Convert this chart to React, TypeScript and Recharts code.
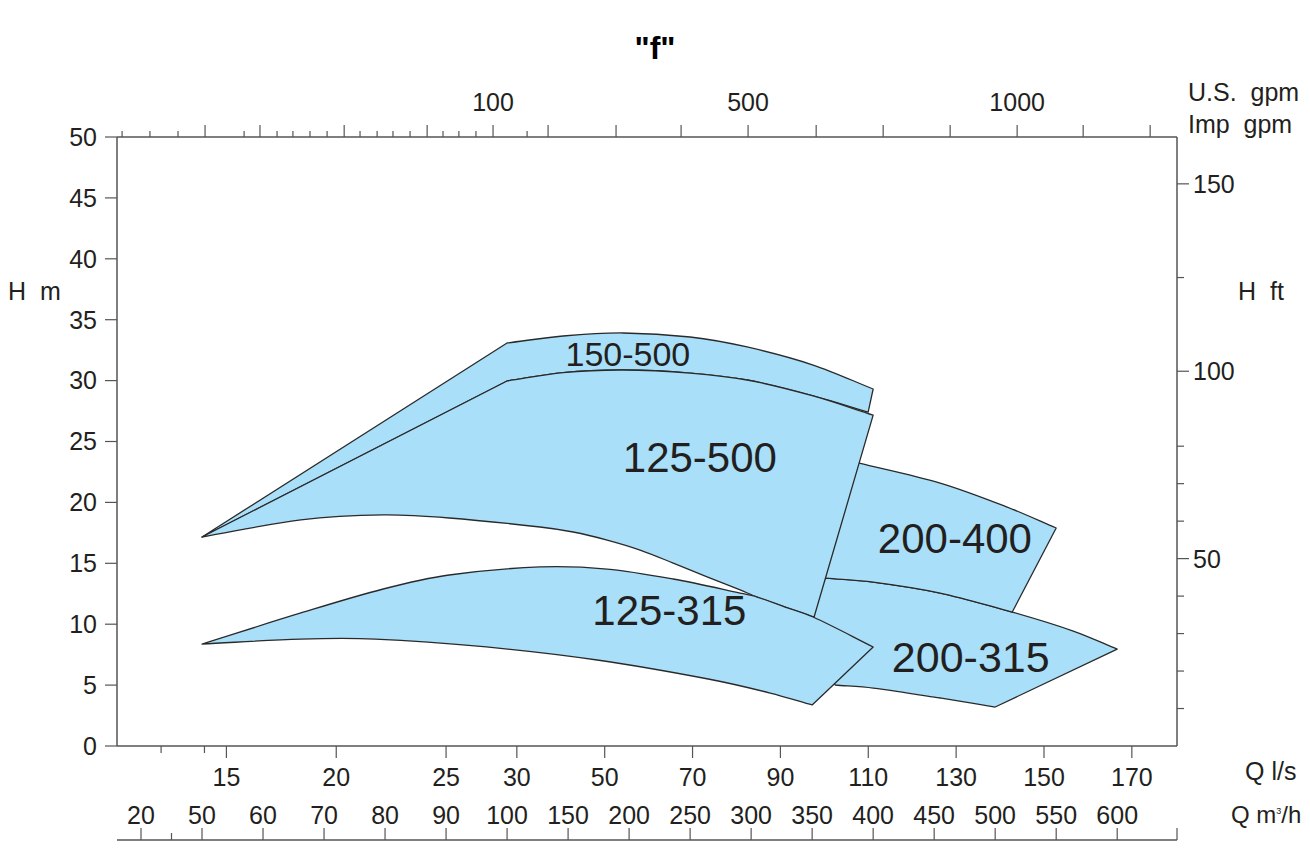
import { ComposedChart, Scatter, XAxis, YAxis } from "recharts"

// x axis of the chart is the Q m³/h scale, which is stretched piece by piece between its ticks
const m3hTicks = [20, 50, 60, 70, 80, 90, 100, 150, 200, 250, 300, 350, 400, 450, 500, 550, 600]
const m3hMinor = [35]
const lsTicks = [15, 20, 25, 30, 50, 70, 90, 110, 130, 150, 170]
const lsMinor = [8.3, 14]
// top gpm ticks, given as the m³/h value they sit over
const gpmTicks = [50.5, 59.5, 73.3, 86.9, 97.7, 133.6, 189.3, 242.6, 297.5, 353.3, 408.2, 463.1, 518, 572.1, 627]
const gpmLabels = ["", "", "", "", "100", "", "", "", "500", "", "", "", "1000", "", ""]
const gpmMinor = [10.7, 24.4, 38.2, 56.9, 62.3, 64.9, 67.7, 70.5, 75.9, 78.7, 81.3, 84.1, 89.5, 92.1, 94.9, 116.4]
const hTicks = [0, 5, 10, 15, 20, 25, 30, 35, 40, 45, 50]
const ftTicks = [50, 100, 150]
const ftMinor = [10, 20, 30, 40, 60, 70, 80, 125]
const qRange = [8.2, 649]

// outlines: [Q m³/h, H m, corner]
const outline150_500: [number, number, number][] = [
  [50, 17.16, 1], [100, 33.09, 1], [145.9, 33.66, 0], [195.1, 33.91, 0], [250, 33.58, 0],
  [296.7, 32.76, 0], [350.8, 31.28, 0], [400, 29.31, 1], [395.9, 27.42, 1], [350.8, 28.74, 0],
  [296.7, 30.05, 0], [250, 30.62, 0], [195.1, 30.87, 0], [145.9, 30.66, 0], [100, 29.97, 1],
]
const outline125_500: [number, number, number][] = [
  [50, 17.16, 1], [100, 29.97, 1], [145.9, 30.66, 0], [195.1, 30.87, 0], [250, 30.62, 0],
  [296.7, 30.05, 0], [350.8, 28.74, 0], [400, 27.16, 1], [351.6, 10.59, 1], [327.9, 11.41, 0],
  [304.9, 12.23, 0], [291, 12.81, 0], [263.9, 13.88, 0], [236.1, 15.02, 0], [209, 16.09, 0],
  [182, 16.91, 0], [154.1, 17.57, 0], [127, 17.98, 0], [90.5, 18.72, 0], [79.7, 18.97, 0],
  [66.2, 18.56, 0],
]
const outline200_400: [number, number, number][] = [
  [377, 23.48, 1], [388.5, 23.23, 0], [454.9, 21.59, 0], [509.8, 19.62, 0], [550, 17.9, 1],
  [514, 11.0, 1], [454.9, 12.56, 0], [400, 13.46, 0], [361.5, 13.79, 0], [350, 13.9, 1],
]
const outline200_315: [number, number, number][] = [
  [361.5, 13.79, 1], [400, 13.46, 0], [454.9, 12.56, 0], [514, 11.0, 0], [564, 9.44, 0],
  [600, 7.96, 1], [500, 3.2, 1], [454.9, 3.94, 0], [400, 4.76, 0], [368.9, 5.01, 1],
  [350, 8.7, 1], [340.2, 12.0, 1],
]
const outline125_315: [number, number, number][] = [
  [50, 8.37, 1], [66.2, 10.92, 0], [79.7, 12.89, 0], [90.5, 14.04, 0], [127, 14.7, 0],
  [182, 14.53, 0], [236.1, 13.71, 0], [291, 12.56, 0], [304.9, 12.23, 0], [327.9, 11.41, 0],
  [350.8, 10.59, 0], [400, 8.13, 1], [350, 3.37, 1], [315.6, 4.35, 0], [264.8, 5.5, 0],
  [173.8, 7.06, 0], [96.6, 8.13, 0], [78.4, 8.78, 0], [66.2, 8.78, 0],
]

const pumpNames = ["150-500", "125-500", "200-400", "125-315", "200-315"]
const labelQ = [199, 258, 467, 233, 480]
const labelH = [32.2, 23.7, 17.0, 11.1, 7.3]
const labelSize: Record<string, number> = { "150-500": 34, "125-500": 42, "200-400": 42, "125-315": 42, "200-315": 43 }

const fillColor = "#a9dff8"
const edgeColor = "#2a2a2a"
const axisColor = "#555"
const textColor = "#231f20"
const font = "'Liberation Sans', Arial, Helvetica, sans-serif"
const tickFont = 25

function qPos(q: number) {
  const t = m3hTicks
  let i = 0
  while (i < t.length - 2 && q > t[i + 1]) i++
  return i + (q - t[i]) / (t[i + 1] - t[i])
}

const domain = [qPos(qRange[0]), qPos(qRange[1])]
const m3hPos = m3hTicks.map(qPos)
const lsPos = lsTicks.map((v) => qPos(v * 3.6))
const gpmPos = gpmTicks.map(qPos)
const find = (list: number[], v: number) => list.findIndex((t) => Math.abs(t - v) < 1e-6)

type Pt = { x: number; y: number }

// spline through the points, tangents scaled by chord length
function spline(seg: Pt[]) {
  if (seg.length === 2) return `L${seg[1].x},${seg[1].y}`
  const t = [0]
  for (let i = 1; i < seg.length; i++) t.push(t[i - 1] + Math.hypot(seg[i].x - seg[i - 1].x, seg[i].y - seg[i - 1].y))
  const m = seg.map((_, i) => {
    const a = seg[Math.max(i - 1, 0)]
    const b = seg[Math.min(i + 1, seg.length - 1)]
    const dt = t[Math.min(i + 1, seg.length - 1)] - t[Math.max(i - 1, 0)] || 1
    return { x: (b.x - a.x) / dt, y: (b.y - a.y) / dt }
  })
  let d = ""
  for (let i = 0; i < seg.length - 1; i++) {
    const dt = t[i + 1] - t[i]
    const p1 = seg[i]
    const p2 = seg[i + 1]
    d += `C${p1.x + (m[i].x * dt) / 3},${p1.y + (m[i].y * dt) / 3},${p2.x - (m[i + 1].x * dt) / 3},${p2.y - (m[i + 1].y * dt) / 3},${p2.x},${p2.y}`
  }
  return d
}

function smoothPath(pts: Pt[], corners: boolean[]) {
  const ring = [...pts, pts[0]]
  const flags = [...corners, true]
  let d = `M${ring[0].x},${ring[0].y}`
  let start = 0
  for (let i = 1; i < ring.length; i++) {
    if (flags[i]) {
      d += spline(ring.slice(start, i + 1))
      start = i
    }
  }
  return d + "Z"
}

const toData = (o: [number, number, number][]) => o.map(([q, h]) => ({ x: qPos(q), y: h }))

const outlineLine = (o: [number, number, number][]) => (props: any) => (
  <path
    d={smoothPath(props.points, o.map((p) => p[2] === 1))}
    fill={fillColor}
    stroke={edgeColor}
    strokeWidth={1.3}
    strokeLinejoin="round"
  />
)

const NoDot = () => <g />

const labelData = pumpNames.map((name, i) => ({ x: qPos(labelQ[i]), y: labelH[i], name }))

function PumpLabel(props: any) {
  const name = props.payload.name
  return (
    <text x={props.cx} y={props.cy} textAnchor="middle" dominantBaseline="central" fontSize={labelSize[name]} fill={textColor} fontFamily={font}>
      {name}
    </text>
  )
}

function TopTick({ x, y, payload }: any) {
  const i = find(gpmPos, payload.value)
  const major = i >= 0
  return (
    <g>
      <line x1={x} x2={x} y1={y} y2={y - (major ? 12 : 6)} stroke={axisColor} strokeWidth={1.2} />
      {major && gpmLabels[i] && (
        <text x={x} y={y - 35} textAnchor="middle" dominantBaseline="central" fontSize={tickFont} fill={textColor} fontFamily={font}>
          {gpmLabels[i]}
        </text>
      )}
    </g>
  )
}

function LsTick({ x, y, payload }: any) {
  const i = find(lsPos, payload.value)
  const major = i >= 0
  return (
    <g>
      <line x1={x} x2={x} y1={y} y2={y + (major ? 12 : 7)} stroke={axisColor} strokeWidth={1.2} />
      {major && (
        <text x={x} y={y + 31} textAnchor="middle" dominantBaseline="central" fontSize={tickFont} fill={textColor} fontFamily={font}>
          {lsTicks[i]}
        </text>
      )}
    </g>
  )
}

function M3hTick({ x, y, payload }: any) {
  const i = find(m3hPos, payload.value)
  const major = i >= 0
  const base = y + 44
  return (
    <g>
      <line x1={x} x2={x} y1={base} y2={base - (major ? 12 : 7)} stroke={axisColor} strokeWidth={1.2} />
      {major && (
        <text x={x} y={y + 19} textAnchor="middle" dominantBaseline="central" fontSize={tickFont} fill={textColor} fontFamily={font}>
          {m3hTicks[i]}
        </text>
      )}
    </g>
  )
}

function M3hLine(props: any) {
  const vb = props.viewBox
  if (!vb) return null
  const base = vb.y + 44
  return (
    <g>
      <line x1={vb.x} x2={vb.x + vb.width} y1={base} y2={base} stroke={axisColor} strokeWidth={1.5} />
      <line x1={vb.x + vb.width} x2={vb.x + vb.width} y1={base} y2={base - 12} stroke={axisColor} strokeWidth={1.2} />
    </g>
  )
}

function FtTick({ x, y, payload }: any) {
  const major = ftTicks.includes(payload.value)
  return (
    <g>
      <line x1={x} x2={x + (major ? 12 : 7)} y1={y} y2={y} stroke={axisColor} strokeWidth={1.2} />
      {major && (
        <text x={x + 16} y={y} textAnchor="start" dominantBaseline="central" fontSize={tickFont} fill={textColor} fontFamily={font}>
          {payload.value}
        </text>
      )}
    </g>
  )
}

const titleStyle = (left: number, top: number, extra: any = {}) => ({
  position: "absolute" as const,
  left,
  top,
  transform: "translateY(-50%)",
  fontSize: tickFont,
  color: textColor,
  whiteSpace: "pre" as const,
  width: "max-content",
  lineHeight: 1,
  ...extra,
})

export default function App() {
  return (
    <div style={{ position: "relative", width: 1294, height: 842, fontFamily: font }}>
      <ComposedChart width={1294} height={842} margin={{ top: 0, right: 0, bottom: 0, left: 0 }}>
        <XAxis
          xAxisId="ls"
          type="number"
          dataKey="x"
          orientation="bottom"
          domain={domain}
          allowDataOverflow
          ticks={[...lsMinor.map((v) => qPos(v * 3.6)), ...lsPos]}
          interval={0}
          height={50}
          tickSize={0}
          tickMargin={0}
          tickLine={false}
          tick={<LsTick />}
          axisLine={{ stroke: axisColor, strokeWidth: 1.5 }}
        />
        <XAxis
          xAxisId="m3h"
          type="number"
          dataKey="x"
          orientation="bottom"
          domain={domain}
          allowDataOverflow
          ticks={[...m3hMinor.map(qPos), ...m3hPos]}
          interval={0}
          height={54}
          tickSize={0}
          tickMargin={0}
          tickLine={false}
          tick={<M3hTick />}
          axisLine={false}
          label={{ content: (p: any) => <M3hLine {...p} /> }}
        />
        <XAxis
          xAxisId="gpm"
          type="number"
          dataKey="x"
          orientation="top"
          domain={domain}
          allowDataOverflow
          ticks={[...gpmMinor.map(qPos), ...gpmPos]}
          interval={0}
          height={129}
          tickSize={0}
          tickMargin={0}
          tickLine={false}
          tick={<TopTick />}
          axisLine={{ stroke: axisColor, strokeWidth: 1.5 }}
        />
        <YAxis
          yAxisId="m"
          type="number"
          dataKey="y"
          domain={[0, 50]}
          allowDataOverflow
          ticks={hTicks}
          interval={0}
          width={109}
          tickSize={12}
          tickMargin={8}
          tickLine={{ stroke: axisColor, strokeWidth: 1.2 }}
          axisLine={{ stroke: axisColor, strokeWidth: 1.5 }}
          tick={{ fontSize: tickFont, fill: textColor, fontFamily: font }}
        />
        <YAxis
          yAxisId="ft"
          type="number"
          orientation="right"
          domain={[0, 162.5]}
          allowDataOverflow
          ticks={[...ftMinor, ...ftTicks]}
          interval={0}
          width={125}
          tickSize={0}
          tickMargin={0}
          tickLine={false}
          tick={<FtTick />}
          axisLine={{ stroke: axisColor, strokeWidth: 1.5 }}
        />
        <Scatter xAxisId="ls" yAxisId="m" data={toData(outline200_315)} line={outlineLine(outline200_315)} shape={NoDot} isAnimationActive={false} />
        <Scatter xAxisId="ls" yAxisId="m" data={toData(outline200_400)} line={outlineLine(outline200_400)} shape={NoDot} isAnimationActive={false} />
        <Scatter xAxisId="ls" yAxisId="m" data={toData(outline150_500)} line={outlineLine(outline150_500)} shape={NoDot} isAnimationActive={false} />
        <Scatter xAxisId="ls" yAxisId="m" data={toData(outline125_500)} line={outlineLine(outline125_500)} shape={NoDot} isAnimationActive={false} />
        <Scatter xAxisId="ls" yAxisId="m" data={toData(outline125_315)} line={outlineLine(outline125_315)} shape={NoDot} isAnimationActive={false} />
        <Scatter xAxisId="ls" yAxisId="m" data={labelData} shape={PumpLabel} isAnimationActive={false} />
      </ComposedChart>
      <div style={titleStyle(647, 40, { fontSize: 32, fontWeight: "bold", transform: "translate(-50%, -50%)", color: "#000" })}>"f"</div>
      <div style={titleStyle(1180, 84)}>{"U.S.  gpm"}</div>
      <div style={titleStyle(1180, 116)}>{"Imp  gpm"}</div>
      <div style={titleStyle(0, 283)}>{"H  m"}</div>
      <div style={titleStyle(1230, 283)}>{"H  ft"}</div>
      <div style={titleStyle(1237, 763)}>{"Q l/s"}</div>
      <div style={titleStyle(1223, 807, { fontSize: 24 })}>
        {"Q m"}
        <span style={{ fontSize: 9, verticalAlign: 9 }}>3</span>
        {"/h"}
      </div>
    </div>
  )
}
